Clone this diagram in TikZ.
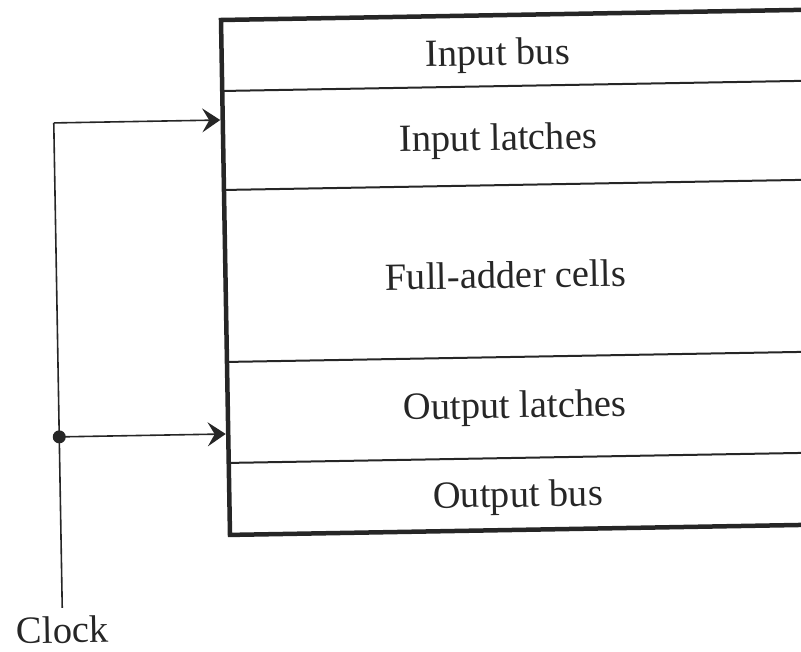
\documentclass[tikz,border=0pt]{standalone}
\usepackage{fontspec}
\setmainfont{Liberation Serif}
\usetikzlibrary{arrows.meta}
\definecolor{ink}{HTML}{262626}
\tikzset{
  frameline/.style={line width=4.5pt, draw=ink},
  rowline/.style={line width=2pt, draw=ink},
  wire/.style={line width=1.6pt, draw=ink},
  feed/.style={wire, -{Stealth[length=18pt,width=24pt,inset=7pt]}},
  rowtext/.style={font=\fontsize{38.5}{40}\selectfont, text=ink, inner sep=0pt,
                  anchor=base, transform shape},
}
\begin{document}
\begin{tikzpicture}[x=1pt,y=-1pt]
\useasboundingbox (0,0) rectangle (801,652);
\clip (0,0) rectangle (801,652);
\begin{scope}[shift={(221,20)}, rotate=1]
  % stacked rows of the adder pipeline
  \coordinate (nw) at (0,0);
  \coordinate (se) at (620,515);
  \draw[rowline] (0,71)  -- (620,71);
  \draw[rowline] (0,170) -- (620,170);
  \draw[rowline] (0,342) -- (620,342);
  \draw[rowline] (0,443) -- (620,443);
  \draw[frameline] (nw) rectangle (se);

  \node[rowtext] (tinbus)  at (276,50)    {Input bus};
  \node[rowtext] (tinlat)  at (275,135)   {Input latches};
  \node[rowtext] (tfa)     at (280,273)   {Full-adder cells};
  \node[rowtext] (toutlat) at (287,403)   {Output latches};
  \node[rowtext] (toutbus) at (288.5,492) {Output bus};

  % clock distribution
  \node[rowtext] (clock) at (-169,620) {Clock};
  \coordinate (cbot) at (-169,585);
  \coordinate (tap)  at (-169,414);
  \coordinate (ctop) at (-169,100);
  \coordinate (inA)  at (-2.5,100);
  \coordinate (inB)  at (-2.5,414);
  \draw[wire] (cbot) -- (tap) -- (ctop);
  \draw[feed] (ctop) -- (inA);
  \draw[feed] (tap) -- (inB);
  \fill[ink] (tap) circle (6.5pt);
\end{scope}
\end{tikzpicture}
\end{document}
